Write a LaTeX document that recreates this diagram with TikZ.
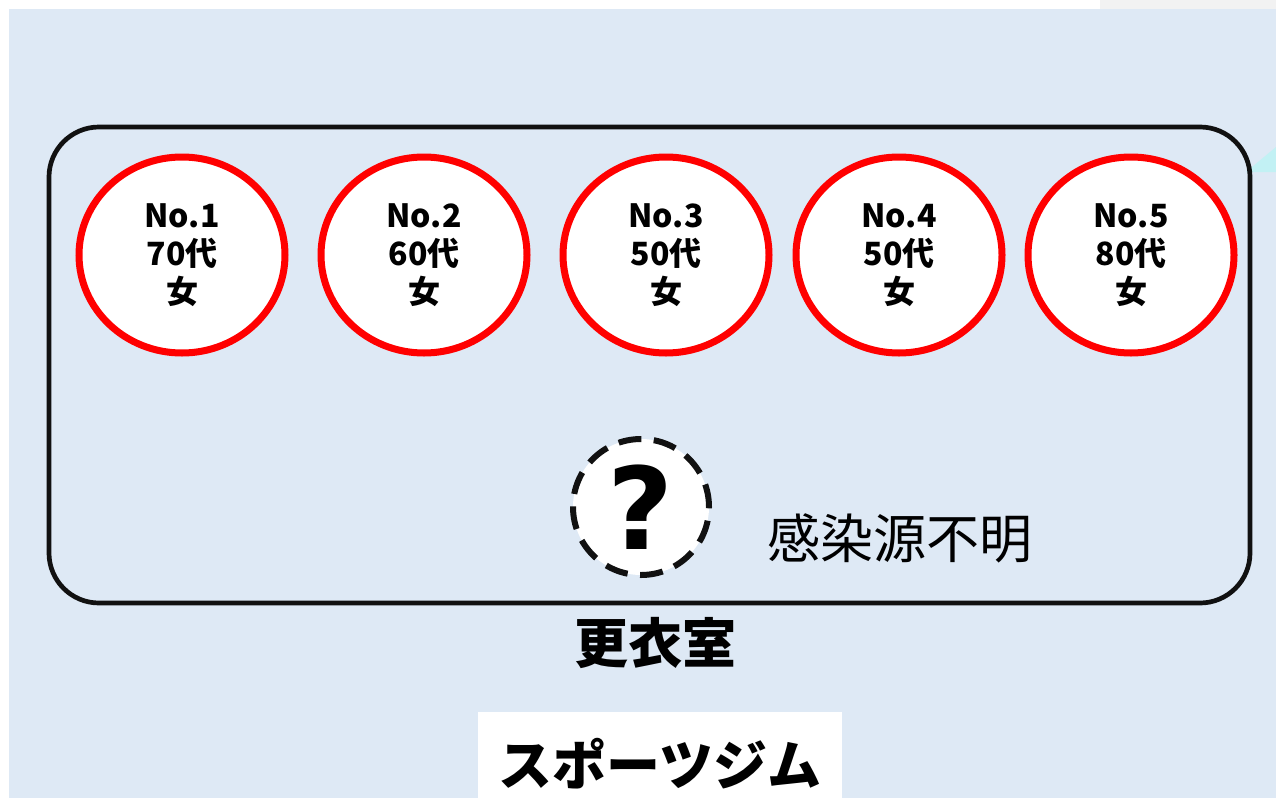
\documentclass[tikz,border=0pt]{standalone}
\usepackage{fontspec}
\usepackage{tikz}
\usetikzlibrary{shapes.geometric}
\newfontfamily\jp{Noto Sans CJK JP}
\newfontfamily\qmark{DejaVu Sans}

\definecolor{gymblue}{HTML}{DEE9F5}
\definecolor{casered}{HTML}{FF0000}
\definecolor{edgeblack}{HTML}{111111}
\definecolor{tipcyan}{HTML}{C2F1F4}
\definecolor{topgrey}{HTML}{F2F2F2}

\begin{document}
\begin{tikzpicture}[
        x=1pt, y=-1pt,
        casecircle/.style={draw=casered, line width=7pt, fill=white, ellipse,
            minimum width=206pt, minimum height=196pt, inner sep=0pt,
            align=center, font=\jp\bfseries\fontsize{32}{38}\selectfont},
        unknowncircle/.style={draw=edgeblack, line width=6pt, fill=white, circle,
            minimum size=136pt, inner sep=0pt, dash pattern=on 23pt off 12.5pt,
            font=\qmark\bfseries\fontsize{114}{114}\selectfont},
        roombox/.style={draw=edgeblack, line width=4.7pt, rounded corners=50pt}
    ]
        % Background
        \useasboundingbox (0,0) rectangle (1276,798);
        \fill[white] (0,0) rectangle (1276,798);
        \fill[topgrey] (1100,0) rectangle (1276,9);
        \fill[gymblue] (9,9) rectangle (1276,798);
        \fill[tipcyan] (1246,172) -- (1276,147) -- (1276,172) -- cycle;

        % Changing room
        \draw[roombox] (49,127) rectangle (1250,603);
        \node[font=\jp\bfseries\fontsize{54}{54}\selectfont] (room) at (655,643) {更衣室};

        % Cases
        \node[casecircle] (case1) at (182,255) {No.1\\70代\\女};
        \node[casecircle] (case2) at (424,255) {No.2\\60代\\女};
        \node[casecircle] (case3) at (666,255) {No.3\\50代\\女};
        \node[casecircle] (case4) at (899,255) {No.4\\50代\\女};
        \node[casecircle] (case5) at (1131,255) {No.5\\80代\\女};

        % Unknown source
        \node[unknowncircle] (unknown) at (641,507) {?};
        \node[font=\jp\fontsize{53}{53}\selectfont, anchor=west] (unknownlabel)
            at (764,538) {感染源不明};

        % Gym label
        \fill[white] (478,712) rectangle (842,798);
        \node[font=\jp\bfseries\fontsize{54}{54}\selectfont] (gym) at (660,764) {スポーツジム};
    \end{tikzpicture}
\end{document}
